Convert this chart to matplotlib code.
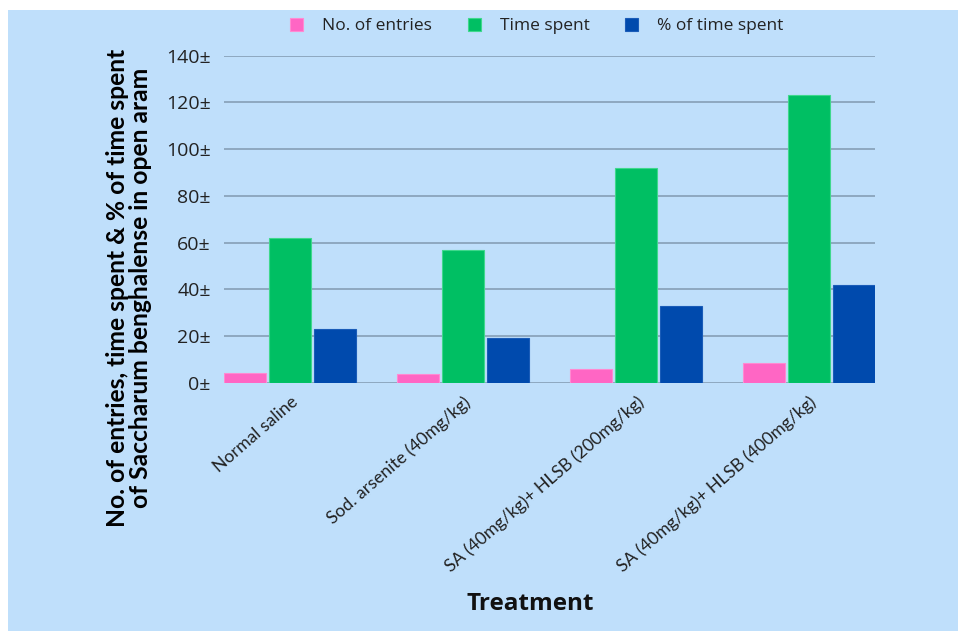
import matplotlib
matplotlib.use("Agg")
import matplotlib.pyplot as plt
import numpy as np
from matplotlib.patches import Rectangle

# Treatment groups and measured values
treatments = [
    "Normal saline",
    "Sod. arsenite (40mg/kg)",
    "SA (40mg/kg)+ HLSB (200mg/kg)",
    "SA (40mg/kg)+ HLSB (400mg/kg)",
]
entries = [4.0, 3.7, 5.7, 8.4]
time_spent = [62, 57, 92, 123]
pct_time = [23, 19, 33, 42]

series_names = ["No. of entries", "Time spent", "% of time spent"]
colors = ["#FF66C4", "#00BF63", "#004AAD"]
edge_colors = ["#FF8AD2", "#3FD88C", "#1A5CB8"]

y_ticks = [0, 20, 40, 60, 80, 100, 120, 140]
y_tick_labels = [f"{v}\u00b1" for v in y_ticks]

bg = "#BFDFFB"
W, H = 958, 631
fig = plt.figure(figsize=(W / 100, H / 100), dpi=100)
fig.patch.set_facecolor("white")
# light blue panel with a thin white margin on top and left
fig.add_artist(Rectangle((8 / W, 0), 1 - 8 / W, 1 - 10 / H,
                         transform=fig.transFigure, facecolor=bg,
                         edgecolor="none", zorder=0))

left, right = 224 / W, 875 / W
bottom, top = (H - 382.7) / H, (H - 55.7) / H
ax = fig.add_axes([left, bottom, right - left, top - bottom])
ax.set_facecolor(bg)
ax.patch.set_alpha(0)

x = np.arange(len(treatments))
bw = 0.243
step = 0.26
for i, (vals, c, ec) in enumerate(zip([entries, time_spent, pct_time], colors, edge_colors)):
    ax.bar(x + (i - 1) * step, vals, width=bw, color=c, edgecolor=ec,
           linewidth=0.8, zorder=3, label=series_names[i])

ax.set_xlim(-0.382, len(treatments) - 1 + 0.382)
ax.set_ylim(0, 140)
ax.set_yticks(y_ticks)
ax.set_yticklabels(y_tick_labels, fontfamily="Open Sans", fontsize=14, color="#222222")
ax.yaxis.grid(True, color="#8EA8C0", linewidth=1.4, zorder=1)
ax.set_axisbelow(True)
ax.tick_params(axis="y", length=0, pad=9.5)
ax.tick_params(axis="x", length=0, pad=8)
for s in ax.spines.values():
    s.set_visible(False)

ax.set_xticks(x)
ax.set_xticklabels(treatments, rotation=41, ha="right", rotation_mode="anchor",
                   fontfamily="Lato", fontsize=12.7, color="#222222")

# y-axis title (two lines, bold)
fig.text(129 / W, 1 - 288 / H,
         "No. of entries, time spent & % of time spent\nof Saccharum benghalense in open aram",
         rotation=90, ha="center", va="center", fontfamily="Lato",
         fontweight="bold", fontsize=17.7, linespacing=0.95, color="black")

# x-axis title
fig.text(530 / W, 1 - 604 / H, "Treatment", ha="center", va="center",
         fontfamily="Open Sans", fontweight="bold", fontsize=17.5, color="#111111")

# legend along the top
leg = fig.legend(loc="center", bbox_to_anchor=(537 / W, 1 - 26 / H), ncol=3,
                 frameon=False, prop={"family": "Open Sans", "size": 12.5},
                 handlelength=0.75, handleheight=0.75, handletextpad=1.1,
                 columnspacing=2.05, labelcolor="#222222")

fig.savefig("out.png", dpi=100, facecolor=fig.get_facecolor())
